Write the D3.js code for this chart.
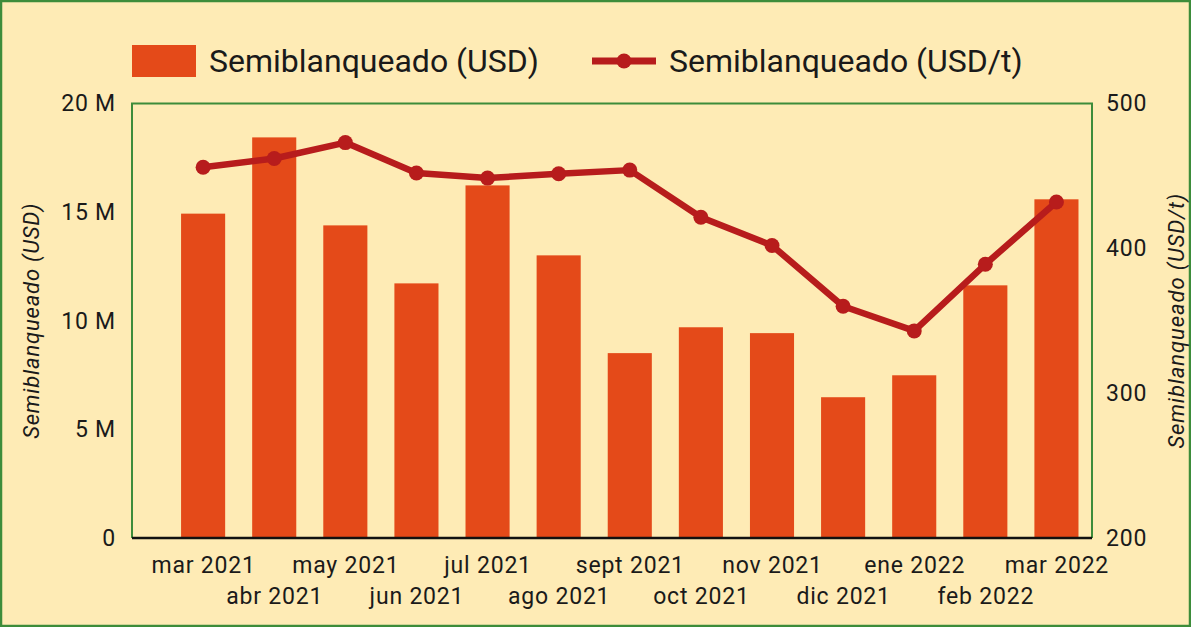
<!DOCTYPE html>
<html>
<head>
<meta charset="utf-8">
<script src="https://cdn.jsdelivr.net/npm/d3@7"></script>
<style>
  body { margin: 0; background: #feebb5; }
  svg { display: block; font-family: Roboto, "Noto Sans", sans-serif; }
</style>
</head>
<body>
<svg id="chart"></svg>
<script>
// data
var months = ["mar 2021", "abr 2021", "may 2021", "jun 2021", "jul 2021", "ago 2021",
              "sept 2021", "oct 2021", "nov 2021", "dic 2021", "ene 2022", "feb 2022", "mar 2022"];
var usdValues = [14.93e6, 18.44e6, 14.39e6, 11.72e6, 16.23e6, 13.01e6,
                 8.51e6, 9.70e6, 9.43e6, 6.48e6, 7.49e6, 11.63e6, 15.59e6];
var usdPerTon = [456, 462, 473, 452, 448.5, 451.5, 454, 421.5, 402, 360, 343, 389, 432];
var leftTicks = [0, 5e6, 10e6, 15e6, 20e6];
var rightTicks = [200, 300, 400, 500];
var barName = "Semiblanqueado (USD)";
var lineName = "Semiblanqueado (USD/t)";

var screen = {width: 1191, height: 627}
var plot = {left: 132, top: 103.5, right: 1092, bottom: 538}

var barColor = "#e44a19";
var lineColor = "#b71c1c";
var green = "#3d8c3a";
var textColor = "#1a1a1a";

var svg = d3.select("#chart")
    .attr("width", screen.width)
    .attr("height", screen.height)

// background + outer frame
svg.append("rect")
    .attr("x", 1).attr("y", 1)
    .attr("width", screen.width - 2).attr("height", screen.height - 2)
    .attr("fill", "#feebb5")
    .attr("stroke", green)
    .attr("stroke-width", 2.5)

//the bars start half a step in from the left edge
var step = (plot.right - plot.left) / (months.length + 0.5)
var xScale = d3.scaleBand()
    .domain(months)
    .range([plot.left + step / 2, plot.right])
    .paddingInner(0.38)
    .paddingOuter(0.19)

var yLeft = d3.scaleLinear()
    .domain([0, 20e6])
    .range([plot.bottom, plot.top])

var yRight = d3.scaleLinear()
    .domain([200, 500])
    .range([plot.bottom, plot.top])

// bars
svg.append("g")
    .selectAll("rect")
    .data(usdValues)
    .enter()
    .append("rect")
    .attr("x", function(d, i) {return xScale(months[i])})
    .attr("y", function(d) {return yLeft(d)})
    .attr("width", xScale.bandwidth())
    .attr("height", function(d) {return yLeft(0) - yLeft(d)})
    .attr("fill", barColor)

// plot frame: green on left/top/right
svg.append("path")
    .attr("d", "M" + plot.left + "," + plot.bottom + "V" + plot.top + "H" + plot.right + "V" + plot.bottom)
    .attr("fill", "none")
    .attr("stroke", green)
    .attr("stroke-width", 2)

// line series
var cx = function(i) {return xScale(months[i]) + xScale.bandwidth() / 2}
var lineGenerator = d3.line()
    .x(function(d, i) {return cx(i)})
    .y(function(d) {return yRight(d)})

svg.append("path")
    .datum(usdPerTon)
    .attr("d", lineGenerator)
    .attr("fill", "none")
    .attr("stroke", lineColor)
    .attr("stroke-width", 6.5)
    .attr("stroke-linejoin", "round")

svg.append("g")
    .selectAll("circle")
    .data(usdPerTon)
    .enter()
    .append("circle")
    .attr("cx", function(d, i) {return cx(i)})
    .attr("cy", function(d) {return yRight(d)})
    .attr("r", 7.5)
    .attr("fill", lineColor)

// the labels in the picture run a bit wider than plain Roboto
var styleTicks = function(sel) {
    sel.attr("font-size", 23)
        .attr("fill", textColor)
        .attr("font-family", "Roboto")
        .attr("letter-spacing", 0.8)
}

// x axis
var xAxis = d3.axisBottom(xScale).tickSize(0).tickPadding(0)
var gx = svg.append("g")
    .attr("transform", "translate(0," + plot.bottom + ")")
    .call(xAxis)
gx.select(".domain").remove()
gx.append("line")
    .attr("x1", plot.left).attr("x2", plot.right)
    .attr("stroke", "#111").attr("stroke-width", 2.5)
gx.selectAll(".tick text")
    .call(styleTicks)
    .attr("dy", null)
    .attr("dx", 0.5)
    .attr("y", function(d, i) {return i % 2 == 0 ? 35 : 66})

// left axis
var leftAxis = d3.axisLeft(yLeft)
    .tickValues(leftTicks)
    .tickSize(0)
    .tickPadding(0)
    .tickFormat(function(d) {return d == 0 ? "0" : (d / 1e6) + " M"})
var gl = svg.append("g")
    .attr("transform", "translate(116,0)")
    .call(leftAxis)
gl.select(".domain").remove()
gl.selectAll(".tick text").call(styleTicks)

// right axis
var rightAxis = d3.axisRight(yRight)
    .tickValues(rightTicks)
    .tickSize(0)
    .tickPadding(0)
var gr = svg.append("g")
    .attr("transform", "translate(1106,0)")
    .call(rightAxis)
gr.select(".domain").remove()
gr.selectAll(".tick text").call(styleTicks)

// axis titles
var midY = (plot.top + plot.bottom) / 2
svg.append("text")
    .attr("transform", "translate(39," + midY + ") rotate(-90)")
    .attr("text-anchor", "middle")
    .attr("font-size", 22)
    .attr("letter-spacing", 0.8)
    .attr("font-style", "italic")
    .attr("fill", textColor)
    .text(barName)
svg.append("text")
    .attr("transform", "translate(1184," + midY + ") rotate(-90)")
    .attr("text-anchor", "middle")
    .attr("font-size", 22)
    .attr("letter-spacing", 0.9)
    .attr("font-style", "italic")
    .attr("fill", textColor)
    .text(lineName)

// legend
var legend = svg.append("g")
legend.append("rect")
    .attr("x", 132).attr("y", 45)
    .attr("width", 64).attr("height", 32)
    .attr("fill", barColor)
legend.append("text")
    .attr("x", 209).attr("y", 72)
    .attr("font-size", 32)
    .attr("fill", textColor)
    .text(barName)
legend.append("line")
    .attr("x1", 592).attr("x2", 656)
    .attr("y1", 61).attr("y2", 61)
    .attr("stroke", lineColor).attr("stroke-width", 7)
legend.append("circle")
    .attr("cx", 624).attr("cy", 61).attr("r", 7.5)
    .attr("fill", lineColor)
legend.append("text")
    .attr("x", 669).attr("y", 72)
    .attr("font-size", 32)
    .attr("fill", textColor)
    .text(lineName)
</script>
</body>
</html>
